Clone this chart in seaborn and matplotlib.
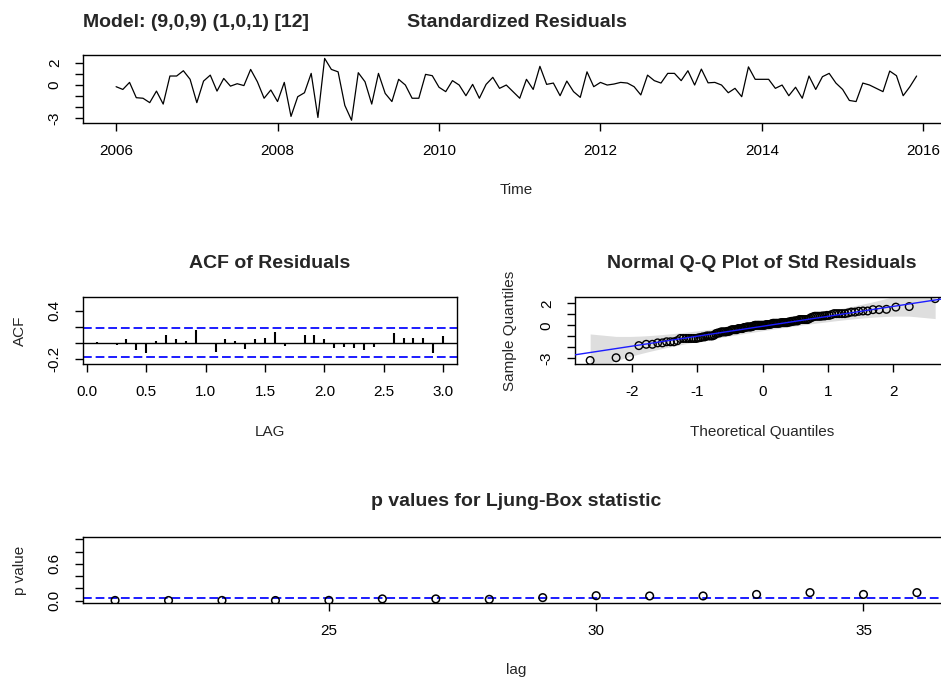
import statistics

import numpy as np
import matplotlib
matplotlib.use("Agg")
import matplotlib.pyplot as plt
import seaborn as sns

# ---- data -------------------------------------------------------------
model_label = "Model: (9,0,9) (1,0,1) [12]"
start_year = 2006

# monthly standardized residuals, Jan 2006 .. Dec 2015
std_resid = [
    -0.15, -0.40, 0.24, -1.15, -1.20, -1.60, -0.55, -1.73, 0.82, 0.82, 1.30, 0.52,
    -1.60, 0.36, 0.90, -0.55, 0.60, -0.10, 0.12, -0.05, 1.42, 0.30, -1.20, -0.45,
    -1.50, 0.24, -2.85, -1.06, -0.70, 1.06, -2.95, 2.42, 1.42, 1.20, -1.85, -3.20,
    1.12, 0.30, -1.73, 1.06, -0.76, -1.50, 0.52, 0.00, -1.20, -1.20, 0.97, 0.85,
    -0.20, -0.60, 0.40, 0.00, -0.97, 0.06, -1.20, 0.06, 0.70, -0.30, 0.00, -0.60,
    -1.20, 0.52, -0.40, 1.70, 0.06, 0.18, -0.97, 0.36, -0.60, -1.12, 1.20, -0.15,
    0.24, 0.00, 0.09, 0.24, 0.18, -0.15, -0.90, 0.90, 0.40, 0.18, 1.06, 1.06,
    0.40, 1.30, 0.00, 1.45, 0.20, 0.24, 0.00, -0.70, -0.30, -1.06, 1.65, 0.52,
    0.52, 0.52, -0.30, 0.00, -0.97, -0.20, -1.20, 0.82, -0.40, 0.76, 1.06, 0.18,
    -0.40, -1.40, -1.50, 0.18, 0.00, -0.30, -0.60, 1.27, 0.85, -0.97, -0.15, 0.82,
]

# sample ACF of the residuals at lags 1..36 months
acf_lag_months = list(range(1, 37))
acf_vals = [
    0.005, -0.005, -0.03, 0.04, -0.09, -0.124, 0.025, 0.095, 0.04, 0.025, 0.157, 0.0,
    -0.12, 0.04, 0.025, -0.083, 0.04, 0.062, 0.137, -0.04, 0.0, 0.095, 0.095, 0.04,
    -0.07, -0.05, -0.07, -0.09, -0.05, 0.0, 0.116, 0.062, 0.062, 0.062, -0.124, 0.083,
]

# Ljung-Box p-values
lb_lags = list(range(21, 37))
lb_pvals = [0.002, 0.001, 0.002, 0.001, 0.003, 0.027, 0.027, 0.020,
            0.048, 0.080, 0.075, 0.075, 0.100, 0.130, 0.100, 0.130]

# ---- style --------------------------------------------------------------
sns.set_style("ticks")
plt.rcParams["font.family"] = ["Liberation Sans", "DejaVu Sans"]
plt.rcParams["axes.linewidth"] = 1.0
plt.rcParams["axes.edgecolor"] = "black"
plt.rcParams["axes.unicode_minus"] = False

BLUE = "#1c1cff"
DASH = (0, (4.5, 2.0))
TITLE_PT = 14
BASE_PT = 11

W, H = 941, 684
fig = plt.figure(figsize=(W / 100, H / 100), dpi=100)
fig.patch.set_facecolor("white")


def panel(left, top, right, bottom):
    return fig.add_axes([left / W, 1 - bottom / H, (right - left) / W, (bottom - top) / H])


def style(ax):
    for s in ax.spines.values():
        s.set_visible(True)
        s.set_linewidth(1.0)
        s.set_color("black")
    ax.tick_params(length=5.8, width=1.0, pad=9.5, labelsize=BASE_PT,
                   colors="black", direction="out")
    ax.tick_params(axis="y", labelrotation=90)
    for lab in ax.get_yticklabels():
        lab.set_va("center")
    ax.set_facecolor("white")
    ax.grid(False)


def title(ax, text, rise, loc=0.5, ha="center"):
    ax.annotate(text, xy=(loc, 1), xycoords="axes fraction",
                xytext=(0, rise), textcoords="offset points",
                ha=ha, va="baseline", fontsize=TITLE_PT, fontweight="bold")


def labels(ax, xlab, ylab, xdrop, yleft):
    bb = ax.get_position()
    hpx, wpx = bb.height * H, bb.width * W
    if xlab:
        ax.set_xlabel(xlab, fontsize=BASE_PT)
        ax.xaxis.set_label_coords(0.5, -xdrop / hpx)
        ax.xaxis.label.set_va("center")
    if ylab:
        ax.set_ylabel(ylab, fontsize=BASE_PT)
        ax.yaxis.set_label_coords(-yleft / wpx, 0.5)
        ax.yaxis.label.set_va("center")
        ax.yaxis.label.set_ha("center")


n = len(std_resid)
t = start_year + np.arange(n) / 12.0

# ---- standardized residuals ----------------------------------------------
ax1 = panel(83, 55, 950, 123)
sns.lineplot(x=t, y=std_resid, ax=ax1, color="black", linewidth=0.9)
ax1.set_xlim(2005.59, 2016.33)
ax1.set_ylim(-3.45, 2.73)
ax1.set_xticks(range(2006, 2017, 2))
ax1.set_yticks(range(-3, 3))
ax1.set_yticklabels(["-3", "", "", "0", "", "2"])
style(ax1)
title(ax1, "Standardized Residuals", 20)
title(ax1, model_label, 20, loc=0.0, ha="left")
labels(ax1, "Time", None, 67, 0)

# ---- ACF of residuals -----------------------------------------------------
ax2 = panel(83, 297, 457, 364)
lag_years = np.array(acf_lag_months) / 12.0
ax2.vlines(lag_years, 0, acf_vals, color="black", linewidth=1.5)
ax2.axhline(0, color="black", linewidth=1.0)
bound = 2 / np.sqrt(n)
for yb in (bound, -bound):
    ax2.axhline(yb, color=BLUE, linestyle=DASH, linewidth=1.4)
ax2.set_xlim(-0.033, 3.117)
ax2.set_ylim(-0.265, 0.568)
ax2.set_xticks(np.arange(0, 3.01, 0.5))
ax2.set_xticklabels([f"{v:.1f}" for v in np.arange(0, 3.01, 0.5)])
ax2.set_yticks([-0.2, 0.0, 0.2, 0.4])
ax2.set_yticklabels(["-0.2", "", "", "0.4"])
style(ax2)
title(ax2, "ACF of Residuals", 21)
labels(ax2, "LAG", "ACF", 68, 63)

# ---- normal Q-Q plot -------------------------------------------------------
ax3 = panel(575, 297, 949, 364)
nd = statistics.NormalDist()
pp = (np.arange(1, n + 1) - 0.5) / n
z = np.array([nd.inv_cdf(p) for p in pp])
sr = np.sort(np.array(std_resid))
q1, q3 = np.quantile(sr, [0.25, 0.75])
zq1, zq3 = nd.inv_cdf(0.25), nd.inv_cdf(0.75)
slope = (q3 - q1) / (zq3 - zq1)
icpt = q1 - slope * zq1
se = slope / np.array([nd.pdf(v) for v in z]) * np.sqrt(pp * (1 - pp) / n)
fit = icpt + slope * z
ax3.fill_between(z, fit - 3.9 * se, fit + 3.9 * se, color="#dedede", linewidth=0, zorder=0)
sns.scatterplot(x=z, y=sr, ax=ax3, marker="o", s=30, facecolor="none",
                edgecolor="black", linewidth=1.0, zorder=3)
ax3.axline((0, icpt), slope=slope, color=BLUE, linewidth=1.0, zorder=4)
ax3.set_xlim(-2.87, 2.85)
ax3.set_ylim(-3.52, 2.57)
ax3.set_xticks([-2, -1, 0, 1, 2])
ax3.set_xticklabels(["-2", "-1", "0", "1", "2"])
ax3.set_yticks(range(-3, 3))
ax3.set_yticklabels(["-3", "", "", "0", "", "2"])
style(ax3)
title(ax3, "Normal Q-Q Plot of Std Residuals", 21)
labels(ax3, "Theoretical Quantiles", "Sample Quantiles", 68, 65)

# ---- Ljung-Box p-values ------------------------------------------------------
ax4 = panel(83, 537, 949, 603)
sns.scatterplot(x=lb_lags, y=lb_pvals, ax=ax4, marker="o", s=30, facecolor="none",
                edgecolor="black", linewidth=1.1, zorder=3)
ax4.axhline(0.05, color=BLUE, linestyle=DASH, linewidth=1.4)
ax4.set_xlim(20.4, 36.6)
ax4.set_ylim(-0.04, 1.04)
ax4.set_xticks([25, 30, 35])
ax4.set_yticks(np.arange(0, 1.01, 0.2))
ax4.set_yticklabels(["0.0", "", "", "0.6", "", ""])
style(ax4)
title(ax4, "p values for Ljung-Box statistic", 22)
labels(ax4, "lag", "p value", 67, 63)

fig.savefig("out.png", dpi=100, facecolor="white")
